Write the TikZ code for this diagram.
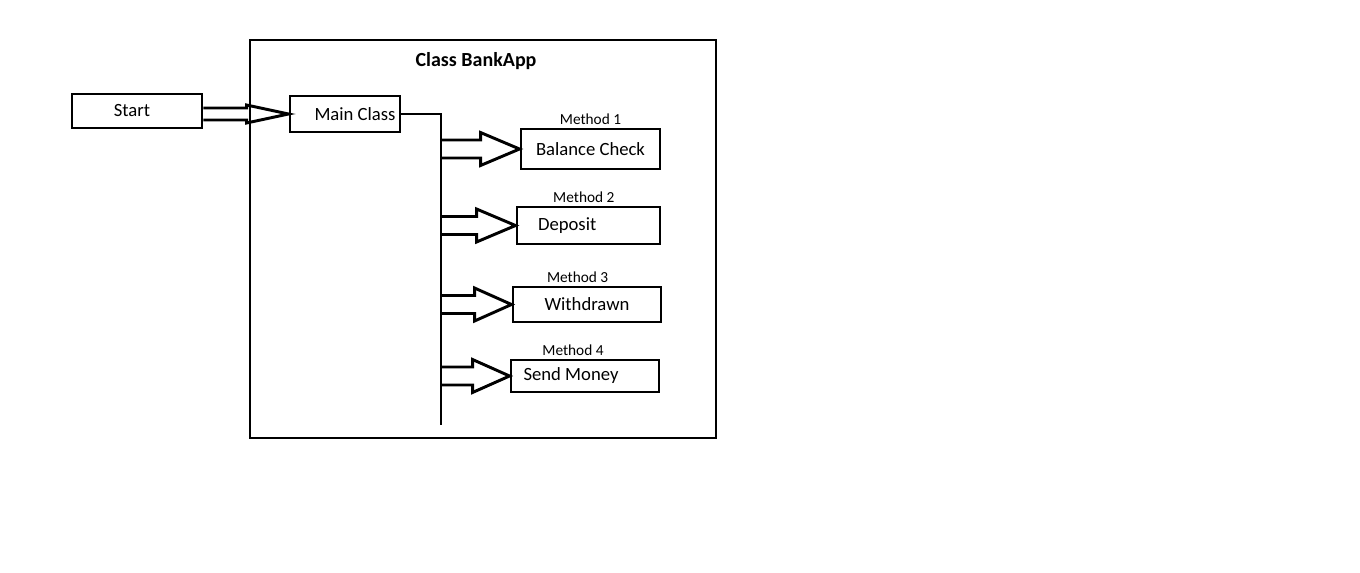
\documentclass[tikz,border=0pt]{standalone}
\usepackage{fontspec}
\setmainfont{Carlito}
\usetikzlibrary{calc}
\usetikzlibrary{positioning}

% hollow block arrow: #1 start, #2 tip, #3 shaft half width, #4 head half width, #5 head length
\newcommand{\blockarrow}[5]{%
  \draw[hollow] ($(#2 -| #1)+(0,-#3)$) -- ($(#2)+(-#5,-#3)$) -- ($(#2)+(-#5,-#4)$) -- (#2)
    -- ($(#2)+(-#5,#4)$) -- ($(#2)+(-#5,#3)$) -- ($(#2 -| #1)+(0,#3)$);
}

\begin{document}
\begin{tikzpicture}
	[
	x=0.75pt, y=-0.75pt,
	every node/.style={font=\fontsize{14}{16}\selectfont},
	every label/.style={font=\fontsize{11.5}{13}\selectfont, inner sep=2pt},
  box/.style = {draw, line width=2.2pt, inner sep=0pt},
  wire/.style = {line width=2.2pt},
  hollow/.style = {line width=2.2pt, line join=miter}
  ]
	\useasboundingbox (0,0) rectangle (1360,572);

	\draw[wire] (250,40) rectangle (716,438);
	\node[font=\fontsize{15}{17}\selectfont\bfseries] (title) at (476,61) {Class BankApp};

	\coordinate (bus) at (441,425);

	\node[box, minimum width=97.5pt, minimum height=25.5pt] (start) at (137,111) {Start\hspace*{7.5pt}};
	\node[box, minimum width=82.5pt, minimum height=27pt] (main) at (345,114) {\hspace*{15pt}Main Class};

	\node[box, minimum width=104.25pt, minimum height=30pt, label={above:Method 1}] (balance) at (590.5,149) {Balance Check};
	\node[box, minimum width=107.25pt, minimum height=27.75pt, label={[xshift=-3.5pt]above:Method 2}] (deposit) at (588.5,225.5) {Deposit\hspace*{32pt}};
	\node[box, minimum width=111pt, minimum height=26.25pt, label={[xshift=-7pt]above:Method 3}] (withdraw) at (587,304.5) {Withdrawn};
	\node[box, minimum width=111pt, minimum height=24pt, label={[xshift=-9pt]above:Method 4}] (send) at (585,376) {Send Money\hspace*{21pt}};

	\draw[wire] (main.east) -| (bus);

	\blockarrow{start.east}{main.west}{6}{9}{42}
	\blockarrow{bus}{balance.west}{9}{16.5}{39}
	\blockarrow{bus}{deposit.west}{9}{16.5}{39}
	\blockarrow{bus}{withdraw.west}{9}{16.5}{37}
	\blockarrow{bus}{send.west}{9}{16.5}{37}
\end{tikzpicture}
\end{document}
